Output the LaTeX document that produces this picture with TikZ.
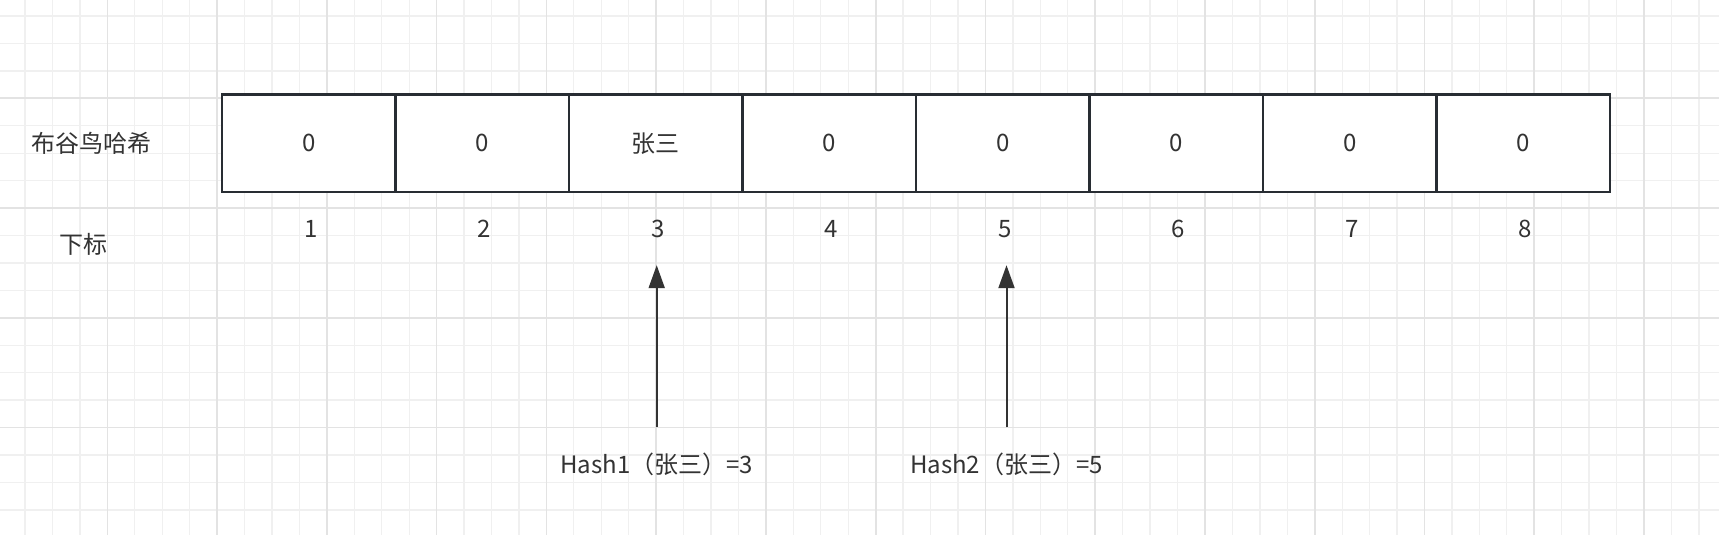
\documentclass[tikz,border=0pt]{standalone}
\usepackage{fontspec}
\setmainfont{Noto Sans CJK SC}
\usetikzlibrary{arrows.meta}
\definecolor{minorgrid}{HTML}{F0F0F0}
\definecolor{majorgrid}{HTML}{E3E3E3}
\definecolor{boxline}{HTML}{282D33}
\definecolor{txt}{HTML}{333333}
\begin{document}
\begin{tikzpicture}[x=1pt,y=-1pt,
  minorline/.style={draw=minorgrid,line width=1.3pt},
  majorline/.style={draw=majorgrid,line width=1.7pt},
  cellbox/.style={draw=boxline,line width=2.3pt,fill=white,rectangle,
    minimum width=173.5pt,minimum height=97.5pt,inner sep=0pt,
    text=txt,font=\fontsize{24}{28}\selectfont},
  lbl/.style={inner sep=0pt,text height=17pt,text depth=0pt,text=txt,
    font=\fontsize{24}{28}\selectfont},
  arr/.style={draw=txt,line width=2pt,-{Triangle[length=23pt,width=16pt]}}]
\useasboundingbox (0,0) rectangle (1719,535);
\fill[white] (0,0) rectangle (1719,535);
% grid
\foreach \i in {0,...,63} {\draw[minorline] ({-2.4+27.44*\i},0) -- ({-2.4+27.44*\i},535);}
\foreach \j in {0,...,20} {\draw[minorline] (0,{-11.46+27.44*\j}) -- (1719,{-11.46+27.44*\j});}
\foreach \i in {0,...,15} {\draw[majorline] ({-2.4+109.76*\i},0) -- ({-2.4+109.76*\i},535);}
\foreach \j in {0,...,5} {\draw[majorline] (0,{-11.46+109.76*\j}) -- (1719,{-11.46+109.76*\j});}
% cells
\foreach \i/\t in {1/0,2/0,3/张三,4/0,5/0,6/0,7/0,8/0}
  {\node[cellbox] (c\i) at ({222+173.5*(\i-0.5)},143.25) {\t};}
% indices
\foreach \i in {1,...,8}
  {\node[lbl] (i\i) at ({224+173.5*(\i-0.5)},229) {\i};}
% left labels
\node[lbl] (name) at (91.5,143.5) {布谷鸟哈希};
\node[lbl] (idx) at (83.5,245) {下标};
% hash labels
\node[lbl] (h1) at (656.7,464.5) {Hash1（张三）=3};
\node[lbl] (h2) at (1006.5,464.5) {Hash2（张三）=5};
% arrows
\draw[arr,shorten <=28.5pt,shorten >=27.5pt] (h1.north) -- (h1.north |- i3.south);
\draw[arr,shorten <=28.5pt,shorten >=27.5pt] (h2.north) -- (h2.north |- i5.south);
\end{tikzpicture}
\end{document}
